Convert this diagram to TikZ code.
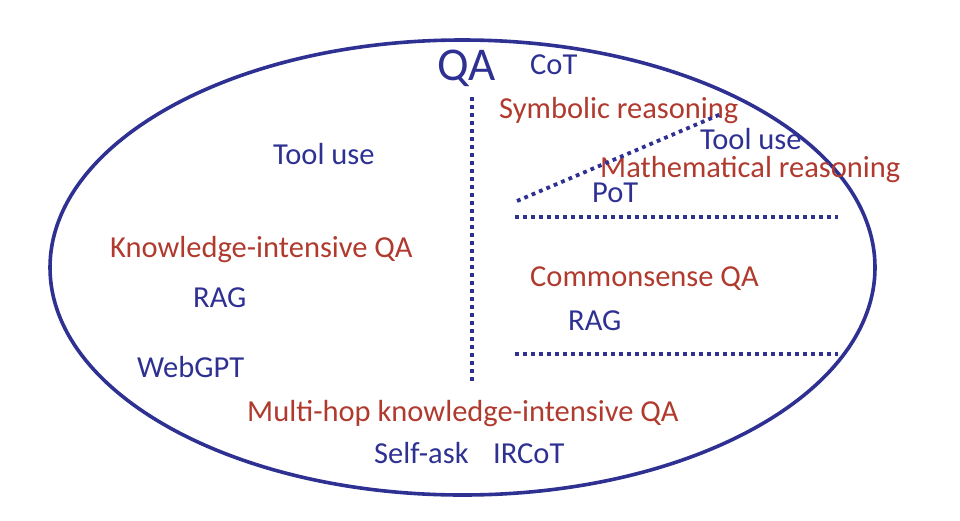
\documentclass[tikz,border=0pt]{standalone}
\usepackage{fontspec}
\setmainfont{Carlito}
\usepackage{xcolor}
\usepackage{tikz}
\definecolor{qablue}{RGB}{46,49,146}
\definecolor{qared}{RGB}{176,58,46}

\begin{document}
\begin{tikzpicture}[x=1pt, y=-1pt,
  method/.style={anchor=base west, inner sep=0pt, text=qablue, font=\fontsize{30.5}{30.5}\selectfont},
  task/.style={anchor=base west, inner sep=0pt, text=qared, font=\fontsize{30.5}{30.5}\selectfont},
  divider/.style={draw=qablue, line width=3.8pt, dash pattern=on 3.8pt off 4.2pt}]
  \useasboundingbox (0,0) rectangle (960,520);
  \draw[qablue, line width=3.6pt] (462.5,267.5) ellipse [x radius=412.5, y radius=227.5];

  % title
  \node[method, font=\fontsize{47}{47}\selectfont] (qa) at (437,80) {QA};

  % right half
  \node[method] (cot) at (530,74) {CoT};
  \node[task] (symb) at (499,118) {Symbolic reasoning};
  \node[method] (tooluseR) at (700,149) {Tool use};
  \node[task] (math) at (600,177) {Mathematical reasoning};
  \node[method] (pot) at (592,202) {PoT};
  \node[task] (csqa) at (530,286) {Commonsense QA};
  \node[method] (ragR) at (568,330) {RAG};

  % left half
  \node[method] (tooluseL) at (273,164) {Tool use};
  \node[task] (kiqa) at (110,257) {Knowledge-intensive QA};
  \node[method] (ragL) at (193,307) {RAG};
  \node[method] (webgpt) at (137,377) {WebGPT};

  % bottom
  \node[task] (mhqa) at (247,421) {Multi-hop knowledge-intensive QA};
  \node[method] (selfask) at (374,463) {Self-ask};
  \node[method] (ircot) at (493,463) {IRCoT};

  % dividers
  \coordinate (vtop) at (472,97);
  \coordinate (vbot) at (472,384);
  \coordinate (slopeA) at (517,201);
  \coordinate (slopeB) at (721,114);
  \coordinate (hAw) at (515,217);
  \coordinate (hAe) at (838,217);
  \coordinate (hBw) at (515,354);
  \coordinate (hBe) at (838,354);
  \draw[divider] (vtop) -- (vbot);
  \draw[divider] (slopeA) -- (slopeB);
  \draw[divider] (hAw) -- (hAe);
  \draw[divider] (hBw) -- (hBe);
\end{tikzpicture}
\end{document}
